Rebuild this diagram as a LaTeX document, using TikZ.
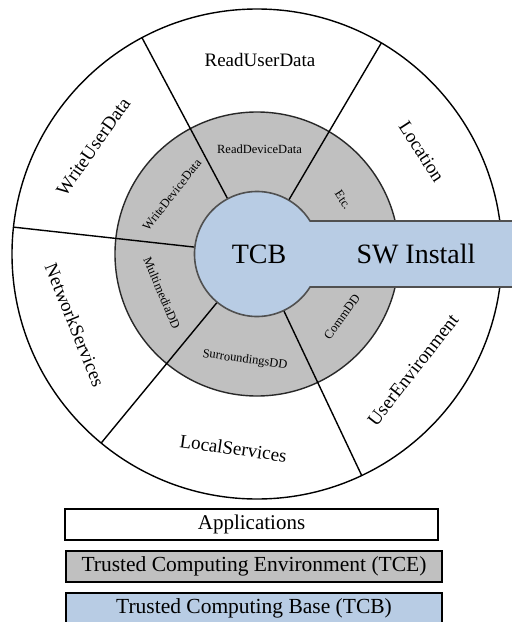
\documentclass[tikz,border=0pt]{standalone}
\usepackage{fontspec}
\setmainfont{Liberation Serif}
\definecolor{tcegray}{RGB}{192,192,192}
\definecolor{tcbblue}{RGB}{184,204,228}
\definecolor{rimline}{RGB}{40,40,40}
\definecolor{tcbline}{RGB}{80,80,80}
\begin{document}
\begin{tikzpicture}[x=1pt,y=1pt,
  ringline/.style={draw=black,line width=1.4pt},
  spoke/.style={draw=black,line width=1.4pt},
  applabel/.style={font=\fontsize{19}{21}\selectfont, inner sep=0pt},
  tcelabel/.style={font=\fontsize{12.5}{14}\selectfont, inner sep=0pt},
  biglabel/.style={font=\fontsize{28}{30}\selectfont, inner sep=0pt},
  legendbox/.style={draw=black, line width=1.6pt, minimum height=31pt, inner sep=0pt, font=\fontsize{21.5}{23}\selectfont},
]
\useasboundingbox (-257,254) rectangle (255,-368);
% application ring
\filldraw[fill=white, ringline] (0,0) circle[radius=245];
% trusted computing environment ring
\filldraw[fill=tcegray, draw=rimline, line width=1.4pt] (0,0) circle[radius=142];
% sector borders
\foreach \a in {59.5,118,173.7,230.5,295.3} \draw[spoke] (\a:60) -- (\a:245);
% TCB core with the SW Install arm
\filldraw[fill=tcbblue, draw=tcbline, line width=1.6pt]
  (31.87:62.5) arc[start angle=31.87,end angle=328.13,radius=62.5]
  -- (270,-33) -- (270,33) -- cycle;
\node[biglabel] (tcbtxt) at (2,0) {TCB};
\node[biglabel] (swinst) at (159,0) {SW Install};
% application labels
\node[applabel] (rud) at (3,194) {ReadUserData};
\node[applabel, rotate=-57] (loc) at (164.7,102.3) {Location};
\node[applabel, rotate=55] (wud) at (-163.7,107.3) {WriteUserData};
\node[applabel, rotate=-68] (net) at (-182,-71) {NetworkServices};
\node[applabel, rotate=-8] (lsv) at (-23.7,-194.3) {LocalServices};
\node[applabel, rotate=52] (uenv) at (156,-116) {UserEnvironment};
% environment labels
\node[tcelabel] (rdd) at (2.5,104.7) {ReadDeviceData};
\node[tcelabel, rotate=52] (wdd) at (-85,59) {WriteDeviceData};
\node[tcelabel, rotate=-57] (etc) at (86,54) {Etc.};
\node[tcelabel, rotate=-67] (mdd) at (-95,-39) {MultimediaDD};
\node[tcelabel, rotate=-8] (sdd) at (-12,-106) {SurroundingsDD};
\node[tcelabel, rotate=54] (cdd) at (85,-63) {CommDD};
% legend
\node[legendbox, fill=white, minimum width=373pt, font=\fontsize{21}{23}\selectfont] (apps) at (-5.5,-270.5) {Applications};
\node[legendbox, fill=tcegray, minimum width=376pt] (tce) at (-3,-312.5) {Trusted Computing Environment (TCE)};
\node[legendbox, fill=tcbblue, minimum width=376pt, anchor=north, minimum height=44pt, text height=15pt, text depth=17pt] (tcb) at (-3,-338) {Trusted Computing Base (TCB)};
\end{tikzpicture}
\end{document}
